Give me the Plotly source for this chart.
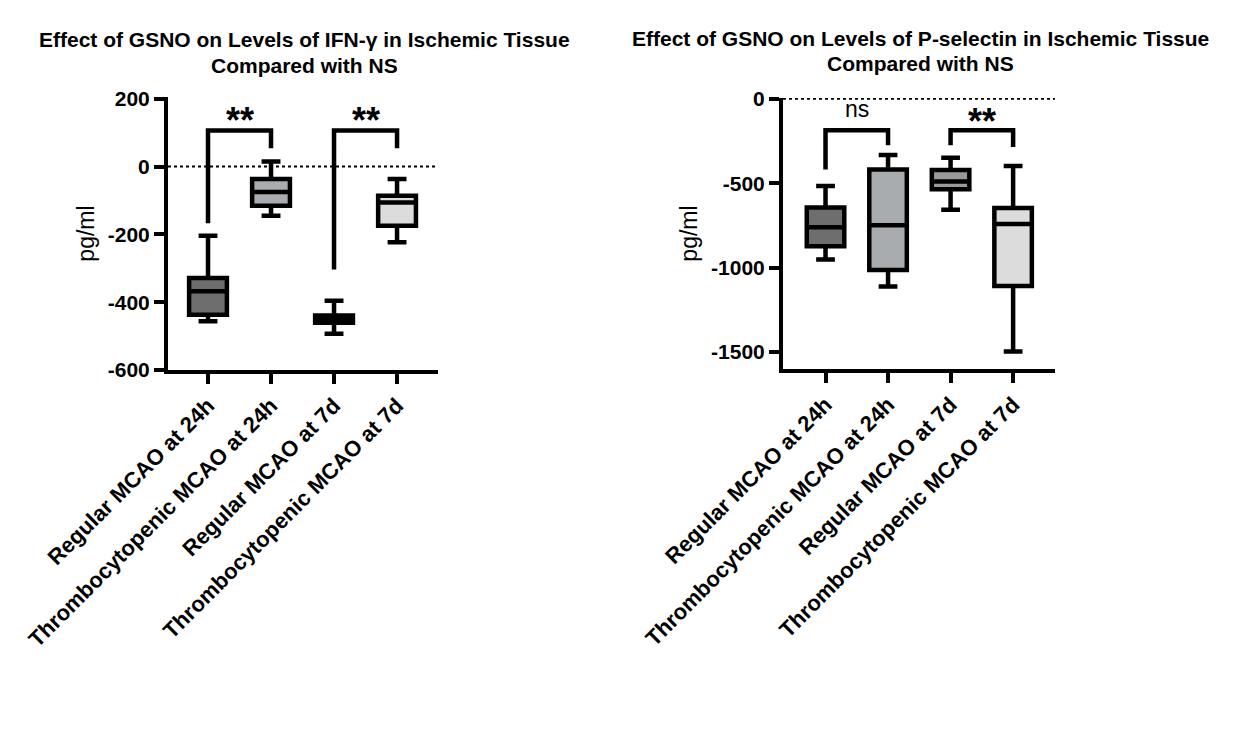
import plotly.graph_objects as go

categories = ["Regular MCAO at 24h", "Thrombocytopenic MCAO at 24h",
              "Regular MCAO at 7d", "Thrombocytopenic MCAO at 7d"]

# IFN-gamma (left panel)
ifn_upper = [-204, 15, -396, -37]
ifn_q3 = [-329, -37, -439, -86]
ifn_median = [-368, -75, -450, -106]
ifn_q1 = [-437, -116, -461, -175]
ifn_lower = [-456, -145, -493, -223]
ifn_ticks = [-600, -400, -200, 0, 200]

# P-selectin (right panel)
psel_upper = [-516, -333, -349, -398]
psel_q3 = [-643, -418, -422, -647]
psel_median = [-761, -749, -490, -741]
psel_q1 = [-873, -1014, -535, -1108]
psel_lower = [-951, -1112, -657, -1496]
psel_ticks = [-1500, -1000, -500, 0]

left_fills = ["#6e6e6e", "#a9acaf", "#7a7a7a", "#dcdcdc"]
right_fills = ["#6e6e6e", "#a9acaf", "#9a9a9a", "#dcdcdc"]

# significance brackets: (x_left, x_right, y_top, y_left_end, y_right_end, label, label_y)
ifn_brackets = [(0, 1, 106, -167, 54, "**", 135),
                (2, 3, 106, -304, 54, "**", 135)]
psel_brackets = [(0, 1, -186, -418, -275, "ns", -58),
                 (2, 3, -186, -275, -285, "**", -136)]

FONT = "Liberation Sans, Arial, sans-serif"
W, H, OFF = 1245, 742, 8  # page body margin offsets the figure by 8px


def px(x):
    return (x - OFF) / W


def py(y):
    return 1 - (y - OFF) / H


fig = go.Figure()


def add_panel(xa, ya, upper, q3, med, q1, lower, fills, brackets):
    for i in range(len(categories)):
        fig.add_trace(go.Box(
            x=[i], q1=[q1[i]], median=[med[i]], q3=[q3[i]],
            lowerfence=[lower[i]], upperfence=[upper[i]],
            width=0.6, whiskerwidth=0.5, fillcolor=fills[i],
            line=dict(color="black", width=4.5), boxpoints=False,
            showlegend=False, hoverinfo="skip",
            xaxis=xa, yaxis=ya))
    for (xl, xr, yt, yl, yr, lab, ly) in brackets:
        fig.add_trace(go.Scatter(
            x=[xl, xl, xr, xr], y=[yl, yt, yt, yr], mode="lines",
            line=dict(color="black", width=4.5), showlegend=False,
            hoverinfo="skip", xaxis=xa, yaxis=ya))
        bold = lab != "ns"
        fig.add_annotation(x=(xl + xr) / 2, y=ly, xref=xa, yref=ya,
                           text=("<b>%s</b>" % lab) if bold else lab,
                           showarrow=False,
                           font=dict(family=FONT, size=36 if bold else 23, color="black"),
                           yanchor="middle")


add_panel("x", "y", ifn_upper, ifn_q3, ifn_median, ifn_q1, ifn_lower, left_fills, ifn_brackets)
add_panel("x2", "y2", psel_upper, psel_q3, psel_median, psel_q1, psel_lower, right_fills, psel_brackets)

# dotted zero lines
fig.add_shape(type="line", xref="x", yref="y", x0=-0.635, x1=3.65, y0=0, y1=0,
              line=dict(color="black", width=2, dash="dot"), layer="below")
fig.add_shape(type="line", xref="x2", yref="y2", x0=-0.68, x1=3.67, y0=0, y1=0,
              line=dict(color="black", width=2, dash="dot"), layer="below")

xcommon = dict(tickmode="array", tickvals=list(range(4)), ticktext=categories,
               tickangle=-45, showline=True, linecolor="black", linewidth=4,
               ticks="outside", ticklen=10, tickwidth=4, tickcolor="black",
               showgrid=False, zeroline=False, automargin=False,
               tickfont=dict(family=FONT, size=22, color="black", weight="bold"))
ycommon = dict(showline=True, linecolor="black", linewidth=4,
               ticks="outside", ticklen=10, tickwidth=4, tickcolor="black",
               showgrid=False, zeroline=False, automargin=False, tickmode="array",
               tickfont=dict(family=FONT, size=21, color="black", weight="bold"),
               title=dict(text="pg/ml", font=dict(family=FONT, size=23, color="black"),
                          standoff=8))

fig.update_layout(
    width=W, height=H,
    margin=dict(l=0, r=0, t=0, b=0, autoexpand=False),
    paper_bgcolor="white", plot_bgcolor="white",
    boxmode="overlay",
    xaxis=dict(domain=[px(168), px(438)], range=[-0.635, 3.65], anchor="y", **xcommon),
    yaxis=dict(domain=[py(370), py(97)], range=[-600, 205], anchor="x",
               tickvals=ifn_ticks, ticktext=[str(v) for v in ifn_ticks], **ycommon),
    xaxis2=dict(domain=[px(783), px(1055)], range=[-0.68, 3.67], anchor="y2", **xcommon),
    yaxis2=dict(domain=[py(369), py(98)], range=[-1600, 5], anchor="x2",
                tickvals=psel_ticks, ticktext=[str(v) for v in psel_ticks], **ycommon),
)

titles = [
    (304, 40, "Effect of GSNO on Levels of IFN-γ in Ischemic Tissue"),
    (304, 65, "Compared with NS"),
    (920, 38, "Effect of GSNO on Levels of P-selectin in Ischemic Tissue"),
    (920, 63, "Compared with NS"),
]
for (tx, ty, tt) in titles:
    fig.add_annotation(x=px(tx), y=py(ty), xref="paper", yref="paper",
                       text="<b>%s</b>" % tt, showarrow=False,
                       font=dict(family=FONT, size=21, color="black"),
                       xanchor="center", yanchor="middle")

fig.write_html("out.html")
